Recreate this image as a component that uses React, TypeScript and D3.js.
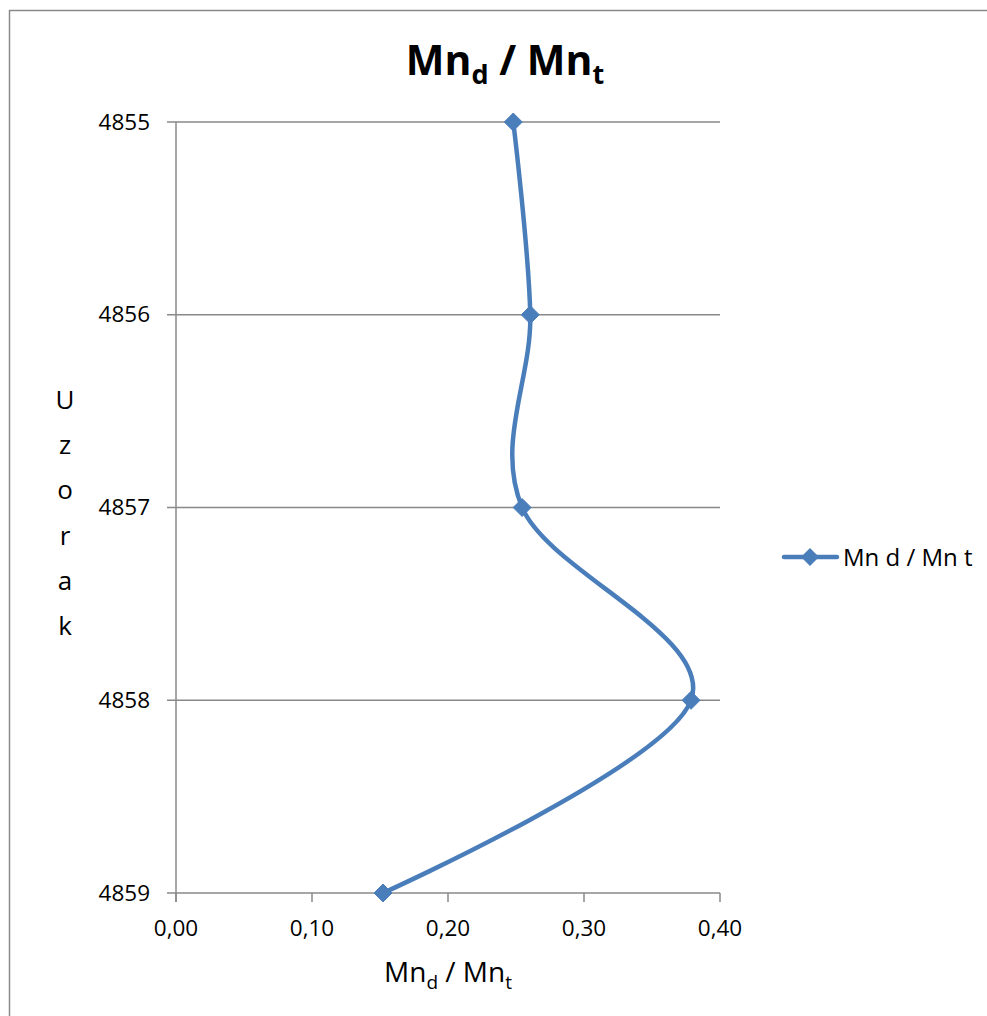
import React from "react";
import * as d3 from "d3";

const samples = [4855, 4856, 4857, 4858, 4859];
const ratios = [0.248, 0.2605, 0.2545, 0.3787, 0.1522];
const xTicks = [0, 0.1, 0.2, 0.3, 0.4];
const yTicks = [4855, 4856, 4857, 4858, 4859];
const yTitleLetters = ["U", "z", "o", "r", "a", "k"];
const seriesName = "Mn d / Mn t";

const W = 987;
const H = 1016;
const FONT = "'Open Sans', 'Noto Sans', sans-serif";
const BLUE = "#4a7ebb";
const GRID = "#888888";

export default function App() {
  const x = d3.scaleLinear().domain([0, 0.4]).range([176, 720]);
  const y = d3.scaleLinear().domain([4855, 4859]).range([122, 893]);
  const pts = samples.map((s, i) => [x(ratios[i]), y(s)] as [number, number]);
  const line = d3.line().curve(d3.curveCardinal.tension(0))(pts) || "";
  const diamond = (cx: number, cy: number, r: number) =>
    `M${cx},${cy - r}L${cx + r},${cy}L${cx},${cy + r}L${cx - r},${cy}Z`;

  return (
    <svg
      width={W}
      height={H}
      style={{ position: "absolute", left: 0, top: 0, display: "block" }}
      fontFamily={FONT}
    >
      <rect x={0} y={0} width={W} height={H} fill="#fff" />
      <rect x={9.5} y={10.5} width={W + 20} height={H + 20} fill="none" stroke="#8a8a8a" strokeWidth={1.5} />

      {/* title */}
      <text x={505} y={75} textAnchor="middle" fontSize={41} fontWeight="bold" fill="#000">
        Mn<tspan fontSize={27} dy={9}>d</tspan>
        <tspan dy={-9}> / Mn</tspan>
        <tspan fontSize={27} dy={9}>t</tspan>
      </text>

      {/* gridlines + y ticks */}
      {yTicks.map((t) => (
        <g key={t}>
          <line x1={167} x2={720} y1={y(t)} y2={y(t)} stroke={GRID} strokeWidth={1.5} />
          <text x={150} y={y(t) + 7.5} textAnchor="end" fontSize={22.5} fill="#000">
            {t}
          </text>
        </g>
      ))}

      {/* y axis line */}
      <line x1={x(0)} x2={x(0)} y1={y(4855)} y2={y(4859) + 9} stroke={GRID} strokeWidth={1.5} />

      {/* x ticks */}
      {xTicks.map((t) => (
        <g key={t}>
          <line x1={x(t)} x2={x(t)} y1={y(4859)} y2={y(4859) + 9} stroke={GRID} strokeWidth={1.5} />
          <text x={x(t)} y={936} textAnchor="middle" fontSize={22.5} fill="#000">
            {d3.format(".2f")(t).replace(".", ",")}
          </text>
        </g>
      ))}

      {/* x axis title */}
      <text x={448} y={982} textAnchor="middle" fontSize={28} fill="#000">
        Mn<tspan fontSize={19} dy={7}>d</tspan>
        <tspan dy={-7}> / Mn</tspan>
        <tspan fontSize={19} dy={7}>t</tspan>
      </text>

      {/* y axis title stacked letters */}
      {yTitleLetters.map((c, i) => (
        <text key={i} x={65} y={409 + i * 45.2} textAnchor="middle" fontSize={26} fill="#000">
          {c}
        </text>
      ))}

      {/* series */}
      <path d={line} fill="none" stroke={BLUE} strokeWidth={4.5} strokeLinejoin="round" strokeLinecap="round" />
      {pts.map((p, i) => (
        <path key={i} d={diamond(p[0], p[1], 9)} fill={BLUE} stroke={BLUE} strokeWidth={1} strokeLinejoin="round" />
      ))}

      {/* legend */}
      <line x1={784} x2={837} y1={557} y2={557} stroke={BLUE} strokeWidth={4.5} strokeLinecap="round" />
      <path d={diamond(810, 557, 9)} fill={BLUE} />
      <text x={843} y={566} fontSize={24} fill="#000">
        {seriesName}
      </text>
    </svg>
  );
}
